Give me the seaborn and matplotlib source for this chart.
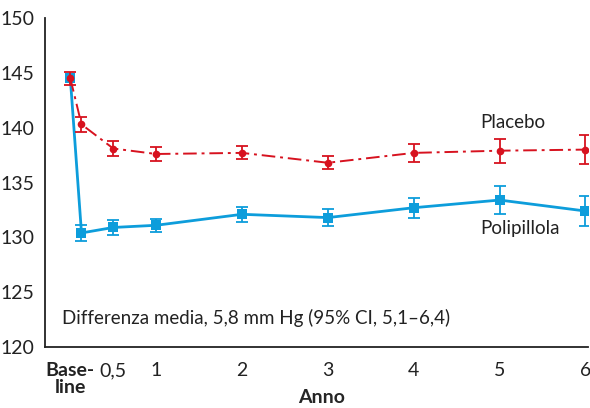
import matplotlib
matplotlib.use("Agg")
import matplotlib.pyplot as plt
import seaborn as sns
import pandas as pd
import numpy as np

# Data (x positions in years; baseline at 0, first follow-up shortly after)
x_pos = [0, 0.13, 0.5, 1, 2, 3, 4, 5, 6]
placebo = [144.5, 140.3, 138.1, 137.6, 137.7, 136.8, 137.7, 137.9, 138.0]
placebo_err = [0.6, 0.7, 0.7, 0.6, 0.6, 0.6, 0.8, 1.1, 1.3]
poli = [144.5, 130.4, 130.9, 131.1, 132.1, 131.8, 132.7, 133.4, 132.4]
poli_err = [0.3, 0.75, 0.7, 0.6, 0.7, 0.75, 0.9, 1.25, 1.4]
tick_pos = [0, 0.5, 1, 2, 3, 4, 5, 6]
tick_labels = ["Base-\nline", "0,5", "1", "2", "3", "4", "5", "6"]
y_ticks = [120, 125, 130, 135, 140, 145, 150]

red = "#d7121f"
blue = "#0d9ddb"

sns.set_style("white")
plt.rcParams['font.family'] = ['Lato', 'DejaVu Sans']

fig = plt.figure(figsize=(5.9, 4.08), dpi=100)
ax = fig.add_axes([45 / 590, 61 / 408, 543 / 590, 329 / 408])

df_p = pd.DataFrame({"x": x_pos, "y": placebo})
df_b = pd.DataFrame({"x": x_pos, "y": poli})

sns.lineplot(data=df_b, x="x", y="y", ax=ax, color=blue, lw=2.0,
             marker="s", markersize=7.5, markeredgewidth=0, zorder=3)
sns.lineplot(data=df_p, x="x", y="y", ax=ax, color=red, lw=1.4,
             marker="o", markersize=5.5, markeredgewidth=0, zorder=4,
             dashes=False)
ax.lines[-1].set_dashes([7, 2.5, 1.5, 2.5])

ax.errorbar(x_pos[1:], poli[1:], yerr=poli_err[1:], fmt="none", ecolor=blue,
            elinewidth=1.3, capsize=4, capthick=1.3, zorder=2)
ax.errorbar(x_pos, placebo, yerr=placebo_err, fmt="none", ecolor=red,
            elinewidth=1.3, capsize=4, capthick=1.3, zorder=5)

ax.set_xlim(-0.295, 6.03)
ax.set_ylim(120, 150)
ax.set_yticks(y_ticks)
ax.set_xticks(tick_pos)
ax.set_xticklabels(tick_labels)
for lbl in ax.get_xticklabels():
    if lbl.get_text().startswith("Base"):
        lbl.set_fontweight("bold")
        lbl.set_fontsize(15)
        lbl.set_linespacing(1.0)
ax.tick_params(axis="both", direction="out", width=1.3,
               labelsize=14, colors="#222222")
ax.tick_params(axis="y", length=6, pad=1.5)
ax.tick_params(axis="x", length=8, pad=3)
ax.set_xlabel("Anno", fontsize=14, fontweight="bold")
ax.xaxis.set_label_coords(0.51, -0.128)
ax.set_ylabel("")

for s in ["top", "right"]:
    ax.spines[s].set_visible(False)
for s in ["left", "bottom"]:
    ax.spines[s].set_color("#222222")
    ax.spines[s].set_linewidth(1.3)

ax.text(4.78, 140.5, "Placebo", fontsize=13.5, color="#222222", va="center")
ax.text(4.78, 130.85, "Polipillola", fontsize=13.5, color="#222222", va="center")
ax.text(-0.1, 122.65, "Differenza media, 5,8 mm Hg (95% CI, 5,1–6,4)",
        fontsize=13.5, color="#222222", va="center")

fig.savefig("out.png", dpi=100)
